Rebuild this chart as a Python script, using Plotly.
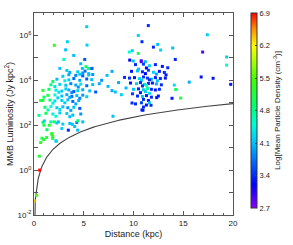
import numpy as np
import plotly.graph_objects as go

# ---- data ----
dist = [
    # upper-left sparse
    5.3, 2.04, 3.35, 3.18, 5.33, 3.99, 3.0, 5.1, 4.7, 5.23, 5.46, 4.86, 2.6, 3.3, 5.13, 5.73, 3.6, 4.4, 4.9, 5.5,
    # left dense rows
    3.5, 4.2, 4.6, 4.9, 5.5, 5.9, 2.9,
    2.3, 3.5, 4.0, 4.6, 5.3, 5.8, 3.1, 1.9,
    1.7, 2.6, 3.2, 3.7, 4.2, 4.7, 5.3, 5.9, 2.1, 4.45,
    0.9, 1.5, 2.2, 2.8, 3.5, 4.0, 4.4, 4.9, 5.6, 3.2, 3.8, 2.5,
    1.4, 2.1, 2.8, 3.3, 3.8, 4.3, 4.9, 5.3, 1.0, 2.4, 3.6, 4.6,
    0.9, 1.6, 2.1, 2.8, 3.4, 3.9, 4.5, 0.67, 1.9, 3.1, 4.2,
    1.1, 1.7, 2.3, 2.9, 3.4, 4.0, 4.6, 1.4, 2.6, 3.7,
    1.2, 1.9, 2.6, 3.3, 3.9, 4.7, 0.5, 2.2, 3.6,
    0.9, 1.7, 2.3, 2.9, 3.6, 4.3, 4.9, 1.04, 2.04, 2.45, 3.85, 4.4,
    1.0, 1.54, 3.45, 4.09, 4.39, 1.3, 2.8,
    # lower-left green
    0.53, 0.67, 0.97, 1.88, 1.81, 1.88, 2.2, 0.8, 1.27, 1.78, 2.24,
    # nearby sources
    0.57, 0.03, 0.27,
    # middle sparse
    7.34, 6.56, 7.44, 6.2, 7.84, 8.17, 8.78, 7.94, 7.84, 5.83, 6.8, 8.5,
    # right sparse
    11.49, 10.48, 10.85, 12.43, 12.0, 12.73, 13.94, 17.42, 16.95, 19.36, 19.36, 19.77, 18.0, 16.8, 15.6,
    14.74, 14.24, 14.1, 13.87, 14.2, 13.44, 13.27, 12.33, 11.76, 11.0, 10.85, 10.78, 9.58, 10.48, 9.88,
    9.62, 9.98, 10.78, 11.19, 9.1, 9.25, 9.85, 10.95, 10.8,
    # right dense rows
    10.2, 11.0, 11.6, 12.2, 12.9, 11.3, 10.5,
    9.8, 10.4, 10.9, 11.5, 12.0, 12.6, 13.1, 11.2, 12.3,
    9.6, 10.1, 10.6, 11.0, 11.4, 11.8, 12.2, 12.7, 13.2, 10.8, 11.6, 12.4,
    9.7, 10.3, 10.7, 11.1, 11.5, 11.9, 12.3, 12.8, 11.3, 10.9,
    10.0, 10.5, 11.0, 11.4, 11.8, 12.2, 12.6, 11.2, 10.7, 11.6,
    10.4, 10.9, 11.3, 11.8, 12.5, 11.0, 11.5, 9.9,
    10.2, 11.3, 11.6,
]
log_lum = [
    6.39, 5.56, 5.72, 5.36, 5.57, 5.11, 4.93, 4.93, 4.74, 4.61, 4.53, 4.53, 4.53, 4.44, 4.41, 4.53, 4.35, 4.38, 4.33, 4.30,
    4.25, 4.22, 4.27, 4.2, 4.24, 4.26, 4.18,
    4.05, 4.02, 4.08, 4.0, 4.06, 4.03, 3.98, 3.95,
    3.8, 3.82, 3.78, 3.85, 3.79, 3.83, 3.76, 3.81, 3.72, 3.7,
    3.55, 3.6, 3.56, 3.52, 3.57, 3.5, 3.54, 3.58, 3.53, 3.62, 3.45, 3.47,
    3.33, 3.35, 3.3, 3.36, 3.28, 3.32, 3.34, 3.27, 3.25, 3.22, 3.24, 3.2,
    3.1, 3.12, 3.08, 3.1, 3.13, 3.06, 3.1, 3.1, 2.98, 3.0, 2.95,
    2.8, 2.83, 2.78, 2.82, 2.78, 2.8, 2.75, 2.68, 2.7, 2.66,
    2.53, 2.5, 2.55, 2.52, 2.45, 2.5, 2.44, 2.4, 2.38,
    2.13, 2.15, 2.1, 2.05, 2.08, 2.12, 2.15, 2.19, 2.15, 2.15, 2.04, 2.2,
    2.0, 2.0, 1.78, 1.94, 1.78, 1.8, 1.85,
    0.62, 1.23, 1.36, 1.5, 1.63, 1.41, 1.3, 1.42, 1.45, 1.6, 1.29,
    0.0, -1.38, -1.12,
    4.22, 3.85, 3.73, 3.48, 3.54, 3.48, 3.36, 2.4, 4.4, 4.53, 4.0, 3.9,
    6.44, 6.0, 5.72, 5.6, 5.48, 5.35, 5.44, 6.03, 5.26, 5.04, 4.68, 3.82, 4.09, 4.15, 3.92,
    3.21, 3.59, 3.79, 3.2, 4.93, 4.56, 4.24, 3.23, 2.89, 2.81, 2.68, 4.87, 5.26, 5.2, 5.32,
    4.9, 4.86, 4.83, 4.83, 4.13, 3.66, 2.99, 2.67, 3.0,
    4.7, 4.72, 4.65, 4.7, 4.62, 4.55, 4.5,
    4.4, 4.42, 4.38, 4.45, 4.36, 4.4, 4.35, 4.3, 4.28,
    4.1, 4.12, 4.08, 4.15, 4.1, 4.05, 4.12, 4.08, 4.1, 4.0, 4.02, 3.98,
    3.88, 3.85, 3.9, 3.82, 3.86, 3.88, 3.84, 3.8, 3.78, 3.75,
    3.6, 3.62, 3.58, 3.64, 3.6, 3.57, 3.6, 3.5, 3.45, 3.42,
    3.3, 3.28, 3.32, 3.25, 3.3, 3.15, 3.1, 3.4,
    2.95, 2.9, 3.0,
]
log_dens = [
    4.2, 5.3, 4.2, 4.1, 4.2, 4.1, 4.6, 3.6, 4.1, 5.0, 4.8, 4.1, 4.1, 4.2, 3.7, 4.1, 4.0, 4.2, 3.9, 4.1,
    4.0, 3.8, 4.2, 3.6, 4.1, 3.9, 4.2,
    4.1, 4.2, 3.7, 4.0, 3.6, 4.1, 4.4, 4.9,
    4.9, 4.2, 4.1, 3.8, 4.0, 4.3, 3.7, 4.1, 4.3, 3.9,
    5.2, 4.9, 4.4, 4.2, 4.0, 3.6, 4.2, 4.0, 4.1, 4.2, 3.8, 4.3,
    5.1, 4.5, 4.1, 4.0, 3.7, 4.1, 3.9, 4.2, 5.0, 4.2, 4.0, 3.8,
    5.1, 4.8, 4.3, 4.2, 4.1, 3.7, 4.0, 5.2, 4.4, 4.2, 4.0,
    4.9, 4.5, 4.2, 4.1, 3.9, 4.1, 3.6, 4.7, 4.3, 4.0,
    5.0, 4.4, 4.2, 4.2, 4.1, 3.9, 4.8, 4.6, 4.1,
    4.9, 4.7, 4.2, 4.2, 4.1, 3.8, 4.1, 4.2, 5.0, 4.1, 4.1, 4.9,
    5.1, 5.2, 3.4, 4.1, 4.1, 4.9, 4.2,
    5.2, 5.3, 5.2, 5.2, 5.3, 5.2, 4.3, 5.1, 5.2, 5.3, 4.2,
    6.9, 6.4, 5.5,
    4.1, 4.0, 4.1, 3.6, 4.0, 4.1, 4.2, 4.1, 4.0, 3.6, 3.9, 4.0,
    3.4, 4.2, 3.4, 4.1, 3.4, 4.2, 4.1, 4.2, 2.9, 4.2, 4.6, 3.3, 3.3, 3.3, 4.0,
    5.2, 5.0, 4.3, 3.3, 3.4, 3.4, 3.3, 3.3, 3.4, 3.4, 3.3, 3.0, 4.5, 5.1, 4.2,
    3.2, 4.1, 2.9, 4.1, 3.4, 4.1, 3.4, 3.3, 3.5,
    3.4, 3.5, 4.2, 3.4, 3.3, 3.2, 4.1,
    3.3, 4.1, 3.4, 3.5, 4.2, 3.3, 3.4, 3.2, 4.0,
    3.4, 3.3, 4.2, 3.4, 3.5, 4.1, 3.3, 3.4, 3.3, 4.2, 3.4, 4.1,
    3.3, 4.2, 3.4, 4.3, 3.4, 3.3, 4.0, 3.4, 4.6, 3.4,
    4.1, 3.4, 4.2, 4.7, 3.4, 3.3, 3.4, 4.2, 3.3, 4.3,
    3.4, 4.2, 3.3, 3.4, 3.3, 3.4, 3.3, 3.5,
    3.4, 3.3, 4.1,
]

# sensitivity-limit curve: L = SENS * d^2
SENS = 2.3
curve_d = np.linspace(0.005, 20, 500)
curve_L = SENS * curve_d ** 2

cb_ticks = [2.7, 3.4, 4.1, 4.8, 5.5, 6.2, 6.9]
y_exps = list(range(-2, 8))

colorscale = [
    [0.0, "#8a00ff"],
    [0.12, "#0000ff"],
    [0.33, "#00bfff"],
    [0.43, "#00ffd8"],
    [0.52, "#00ff70"],
    [0.66, "#40ff00"],
    [0.83, "#ffff00"],
    [0.92, "#ff8c00"],
    [1.0, "#ff0000"],
]

fig = go.Figure()
fig.add_trace(go.Scatter(
    x=curve_d, y=curve_L, mode="lines",
    line=dict(color="#444444", width=1.1), showlegend=False, hoverinfo="skip",
))
fig.add_trace(go.Scatter(
    x=dist, y=[10 ** v for v in log_lum], mode="markers",
    marker=dict(
        size=3, symbol="square", color=log_dens, colorscale=colorscale,
        cmin=2.7, cmax=6.9, line=dict(width=0),
        colorbar=dict(
            x=1.09, xanchor="left", xpad=0, y=1.0, yanchor="top", ypad=0, len=0.965,
            thickness=6, outlinewidth=1, outlinecolor="#333",
            tickvals=cb_ticks, ticktext=[f"{t:.1f}" for t in cb_ticks],
            ticks="inside", ticklen=2, tickfont=dict(size=7.5, color="#222"),
            title=dict(text="Log[Mean Particle Density (cm<sup>-3</sup>)]", side="right",
                       font=dict(size=8, color="#222")),
        ),
    ),
    showlegend=False,
))

axis_common = dict(
    showline=True, linecolor="#555", linewidth=1, mirror="ticks",
    ticks="inside", tickcolor="#555", showgrid=False, zeroline=False,
    tickfont=dict(size=8, color="#222"), automargin=False,
)
fig.update_xaxes(
    range=[0, 20], tickvals=[0, 5, 10, 15, 20], ticklen=4,
    minor=dict(dtick=1, ticks="inside", ticklen=2, tickcolor="#555"),
    title=dict(text="Distance (kpc)", font=dict(size=9, color="#222"), standoff=4),
    **axis_common,
)
fig.update_yaxes(
    type="log", range=[-2, 7], ticklen=4,
    tickvals=[10 ** e for e in y_exps],
    ticktext=[f"10<sup>{e}</sup>" if e % 2 == 0 else "" for e in y_exps],
    title=dict(text="MMB Luminosity (Jy kpc<sup>2</sup>)", font=dict(size=9, color="#222"), standoff=2),
    **axis_common,
)
fig.update_layout(
    width=293, height=245,
    margin=dict(l=34, r=60, t=13, b=30, autoexpand=False),
    paper_bgcolor="white", plot_bgcolor="white",
    font=dict(family="Liberation Sans, Arial, sans-serif", size=8, color="#222"),
)
fig.write_html(
    "out.html",
    config={"displayModeBar": False},
    post_script="document.body.style.margin='0';document.body.style.padding='0';",
)
